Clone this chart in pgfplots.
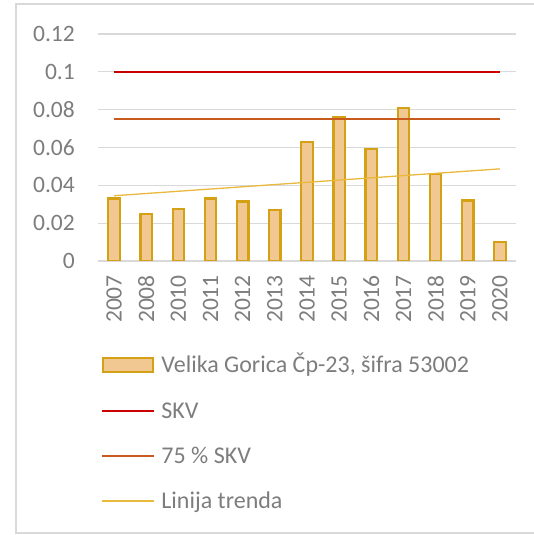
\documentclass[border=0pt]{standalone}
\usepackage{pgfplots}
\pgfplotsset{compat=1.18}
\usepackage{fontspec}
\setmainfont{Carlito}
\definecolor{txt}{RGB}{125,125,125}
\definecolor{gridc}{RGB}{217,217,217}
\definecolor{barfill}{RGB}{241,200,145}
\definecolor{baredge}{RGB}{212,160,20}
\definecolor{skv}{RGB}{200,0,0}
\definecolor{skvs}{RGB}{200,90,30}
\definecolor{trend}{RGB}{232,185,60}
\pgfplotsset{
  linelegend/.style={legend image code/.code={\draw[##1] (0pt,0pt) -- (52pt,0pt);}},
  barlegend/.style={legend image code/.code={\draw[fill=barfill, draw=baredge, line width=2pt] (1pt,-7pt) rectangle (51pt,7pt);}},
}
\begin{document}
\begin{tikzpicture}[x=1pt,y=1pt]
\useasboundingbox (0,0) rectangle (534,535);
\draw[gridc, line width=2pt] (534,530.5) -- (16,530.5) -- (16,2) -- (534,2);
\begin{axis}[
  at={(98pt,274pt)}, anchor=south west,
  scale only axis, width=418pt, height=227pt,
  xmin=-0.5, xmax=12.5, ymin=0, ymax=0.12,
  axis line style={draw=none},
  major tick length=0pt,
  ymajorgrids, grid style={gridc, line width=1.2pt},
  ytick={0,0.02,0.04,0.06,0.08,0.1,0.12},
  yticklabels={0,0.02,0.04,0.06,0.08,0.1,0.12},
  xtick={0,1,2,3,4,5,6,7,8,9,10,11,12},
  xticklabels={2007,2008,2010,2011,2012,2013,2014,2015,2016,2017,2018,2019,2020},
  ticklabel style={font=\fontsize{23.5}{23.5}\selectfont, text=txt, inner sep=0pt},
  yticklabel style={anchor=east},
  yticklabel shift=23pt,
  xticklabel style={rotate=90, anchor=east},
  xticklabel shift=14pt,
  legend style={draw=none, fill=none, at={(axis description cs:0.0072,-0.4229)}, anchor=north west,
    inner sep=0pt, outer sep=0pt, row sep=31pt, column sep=6pt,
    font=\fontsize{24}{24}\selectfont, text=txt,
    nodes={inner sep=0pt, text height=14pt, text depth=0pt}},
  legend cell align=left,
]
\addplot[ybar, bar width=11.5pt, fill=barfill, draw=baredge, line width=2.2pt, barlegend]
  coordinates {(0,0.033) (1,0.025) (2,0.0275) (3,0.033) (4,0.0315) (5,0.027) (6,0.063) (7,0.076) (8,0.059) (9,0.081) (10,0.046) (11,0.032) (12,0.010)};
\addlegendentry{Velika Gorica Čp-23, šifra 53002}
\addplot[skv, line width=2.4pt, linelegend]
  coordinates {(0,0.1) (12,0.1)};
\addlegendentry{SKV}
\addplot[skvs, line width=2.4pt, linelegend]
  coordinates {(0,0.075) (12,0.075)};
\addlegendentry{75 \% SKV}
\addplot[trend, line width=1.3pt, linelegend]
  coordinates {(0,0.0345) (12,0.0487)};
\addlegendentry{Linija trenda}
\end{axis}
\end{tikzpicture}
\end{document}
